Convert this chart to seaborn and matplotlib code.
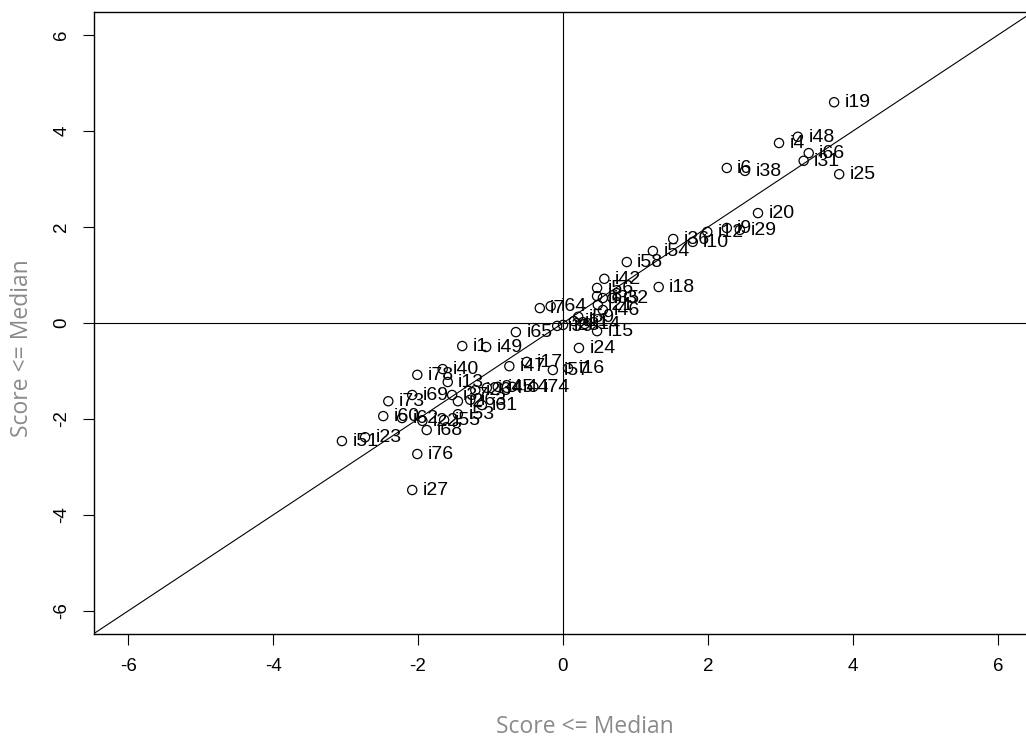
import matplotlib
matplotlib.use("Agg")
import matplotlib.pyplot as plt
import seaborn as sns
import pandas as pd

# Item scores: x = score on the first split, y = score on the second split
items = [
    "i19", "i48", "i4", "i66", "i31", "i25", "i6", "i38", "i20", "i12",
    "i9", "i29", "i36", "i10", "i54", "i58", "i42", "i18", "i56", "i8",
    "i35", "i32", "i21", "i46", "i7", "i64", "i59", "i14", "i15", "i39",
    "i28", "i11", "i65", "i24", "i1", "i49", "i47", "i17", "i57", "i16",
    "i74", "i44", "i45", "i34", "i26", "i37", "i2", "i63", "i61", "i53",
    "i55", "i22", "i62", "i60", "i68", "i78", "i40", "i13", "i69", "i73",
    "i51", "i23", "i76", "i27",
]
score_x = [
    3.74, 3.24, 2.98, 3.39, 3.32, 3.81, 2.26, 2.51, 2.69, 1.99,
    2.26, 2.44, 1.52, 1.79, 1.24, 0.88, 0.57, 1.32, 0.47, 0.47,
    0.55, 0.68, 0.48, 0.55, -0.32, -0.17, 0.21, 0.30, 0.47, -0.08,
    0.00, 0.15, -0.65, 0.22, -1.39, -1.06, -0.74, -0.50, -0.14, 0.07,
    -0.41, -0.70, -0.90, -1.05, -1.21, -1.53, -1.45, -1.28, -1.12, -1.45,
    -1.64, -1.94, -2.22, -2.48, -1.88, -2.01, -1.66, -1.59, -2.08, -2.41,
    -3.05, -2.73, -2.01, -2.08,
]
score_y = [
    4.60, 3.88, 3.75, 3.54, 3.38, 3.10, 3.23, 3.17, 2.29, 1.90,
    1.98, 1.94, 1.75, 1.69, 1.50, 1.27, 0.92, 0.75, 0.73, 0.56,
    0.52, 0.52, 0.38, 0.27, 0.31, 0.35, 0.13, -0.02, -0.17, -0.06,
    -0.04, 0.04, -0.19, -0.52, -0.48, -0.50, -0.90, -0.81, -0.98, -0.94,
    -1.33, -1.33, -1.33, -1.35, -1.40, -1.50, -1.63, -1.60, -1.71, -1.90,
    -2.02, -2.04, -1.98, -1.94, -2.23, -1.08, -0.96, -1.23, -1.50, -1.63,
    -2.46, -2.38, -2.73, -3.48,
]
axis_ticks = [-6, -4, -2, 0, 2, 4, 6]
tick_labels = ["-6", "-4", "-2", "0", "2", "4", "6"]
axis_title = "Score <= Median"

sns.set_style("white")
plt.rcParams["font.family"] = ["Liberation Sans", "DejaVu Sans"]
plt.rcParams["axes.unicode_minus"] = False

W, H = 1026, 738
fig = plt.figure(figsize=(W / 100, H / 100), dpi=100)
fig.patch.set_facecolor("white")
ax = fig.add_axes([94 / W, 1 - 634 / H, 938 / W, 622 / H])

df = pd.DataFrame({"item": items, "x": score_x, "y": score_y})
sns.scatterplot(
    data=df, x="x", y="y", ax=ax, marker="o", s=44,
    facecolor="none", edgecolor="black", linewidth=0.9, zorder=3,
)

# Reference lines: both axes through the origin and the identity line
ax.axhline(0, color="black", lw=0.8, zorder=1)
ax.axvline(0, color="black", lw=0.8, zorder=1)
ax.axline((0, 0), slope=1, color="black", lw=0.8, zorder=1)

for name, x, y in zip(df["item"], df["x"], df["y"]):
    ax.annotate(
        name, (x, y), xytext=(7.5, -0.5), textcoords="offset points",
        ha="left", va="center", fontsize=14, color="black", zorder=4,
    )

ax.set_xlim(-6.47, 6.47)
ax.set_ylim(-6.48, 6.48)
ax.set_xticks(axis_ticks)
ax.set_xticklabels(tick_labels)
ax.set_yticks(axis_ticks)
ax.set_yticklabels(tick_labels, rotation=90, va="center")
ax.tick_params(axis="both", direction="out", length=8, width=0.8,
               pad=9, labelsize=13.5, colors="black", bottom=True, left=True)
ax.set_xlabel("")
ax.set_ylabel("")
for side in ax.spines.values():
    side.set_color("black")
    side.set_linewidth(1.0)

fig.text(585 / W, 1 - 727 / H, axis_title, ha="center", va="center",
         fontsize=16.5, color="#8a8a8a", family="Open Sans")
fig.text(22 / W, 1 - 348 / H, axis_title, ha="center", va="center",
         rotation=90, fontsize=16.5, color="#8a8a8a", family="Open Sans")

fig.savefig("out.png", dpi=100, facecolor="white")
